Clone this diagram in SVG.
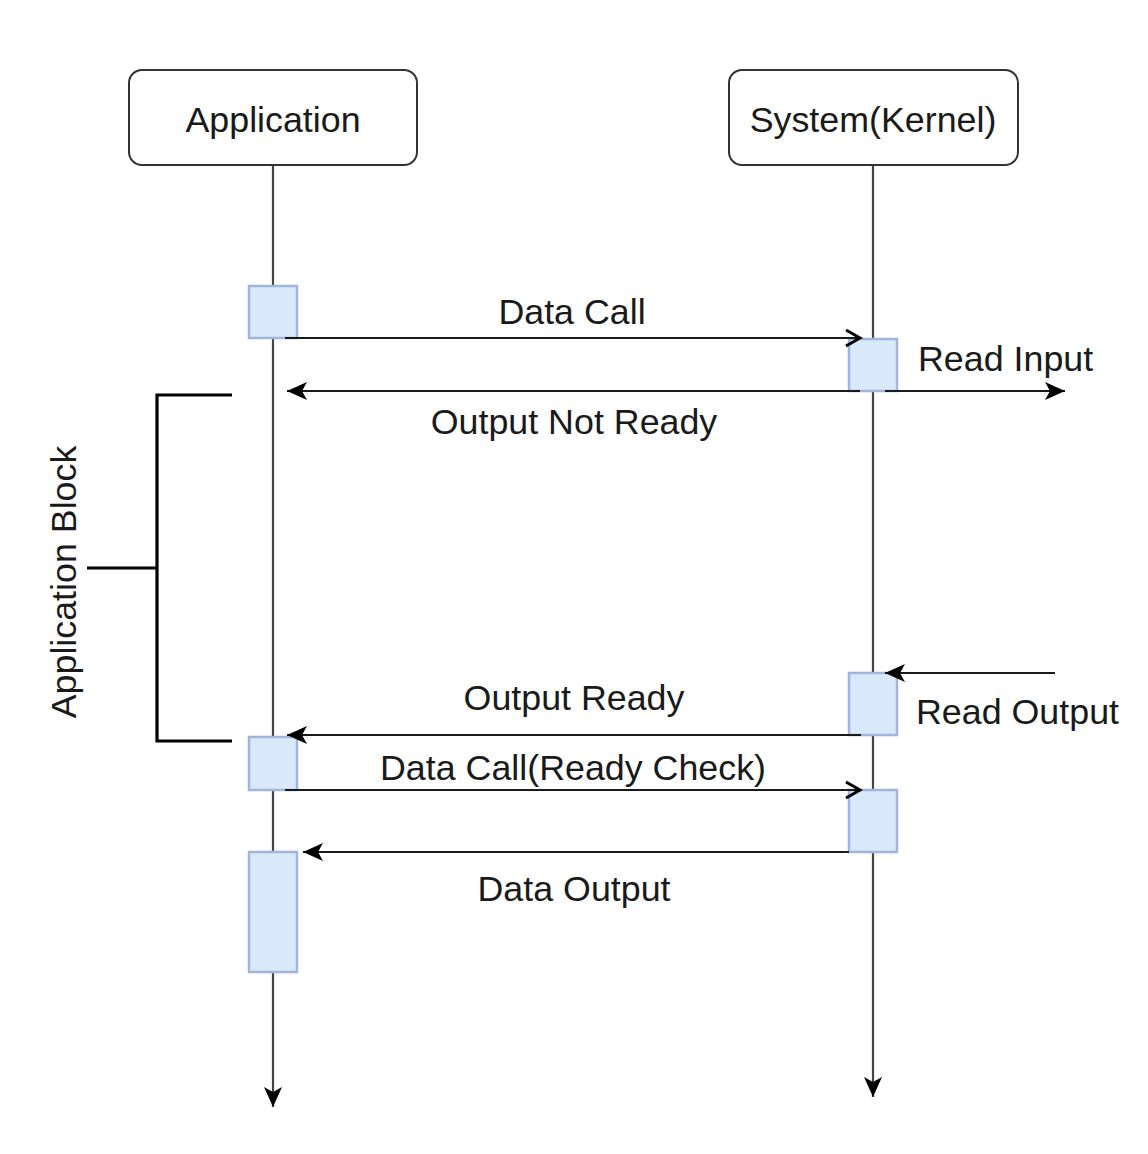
<svg xmlns="http://www.w3.org/2000/svg" width="1148" height="1154" viewBox="0 0 1148 1154">
<style>
.hdr{fill:#fff;stroke:#333;stroke-width:2}
.act{fill:#dae8fc;stroke:#9fb5d9;stroke-width:2.5}
.life{stroke:#444;stroke-width:2.2;fill:none}
.msg{stroke:#1a1a1a;stroke-width:2.2;fill:none}
.br{stroke:#000;stroke-width:3.2;fill:none}
text{font-family:"Liberation Sans",Arial,sans-serif;font-size:35.8px;fill:#1a1a1a}
.c{text-anchor:middle}
</style>
<defs>
<marker id="filled" viewBox="0 0 22 22" refX="20" refY="11" markerWidth="22" markerHeight="22" markerUnits="userSpaceOnUse" orient="auto">
<path d="M0,2 L20,11 L0,20 L5,11 Z" fill="#000"/>
</marker>
<marker id="open" viewBox="0 0 22 22" refX="18" refY="11" markerWidth="22" markerHeight="22" markerUnits="userSpaceOnUse" orient="auto">
<path d="M4,3 L18,11 L4,19" fill="none" stroke="#000" stroke-width="3"/>
</marker>
</defs>
<rect width="1148" height="1154" fill="#fff"/>
<g id="lifelines">
<line class="life" x1="273" y1="165" x2="273" y2="1107" marker-end="url(#filled)"/>
<line class="life" x1="873" y1="165" x2="873" y2="1097" marker-end="url(#filled)"/>
</g>
<g id="application">
<rect class="hdr" x="129" y="70" width="288" height="95" rx="13"/>
<text class="c" x="273" y="132">Application</text>
</g>
<g id="kernel">
<rect class="hdr" x="729" y="70" width="289" height="95" rx="13"/>
<text class="c" x="873" y="132">System(Kernel)</text>
</g>
<g id="activations">
<rect class="act" x="249" y="286" width="48" height="52"/>
<rect class="act" x="849" y="339" width="48" height="52"/>
<rect class="act" x="849" y="673" width="48" height="62"/>
<rect class="act" x="249" y="737" width="48" height="53"/>
<rect class="act" x="849" y="790" width="48" height="62"/>
<rect class="act" x="249" y="852" width="48" height="120"/>
</g>
<g id="connectors">
<line class="msg" x1="285" y1="338" x2="860" y2="338" marker-end="url(#open)"/>
<line class="msg" x1="860" y1="391" x2="287" y2="391" marker-end="url(#filled)"/>
<line class="msg" x1="885" y1="391" x2="1065" y2="391" marker-end="url(#filled)"/>
<line class="msg" x1="1055" y1="673" x2="885" y2="673" marker-end="url(#filled)"/>
<line class="msg" x1="861" y1="735" x2="287" y2="735" marker-end="url(#filled)"/>
<line class="msg" x1="285" y1="790" x2="860" y2="790" marker-end="url(#open)"/>
<line class="msg" x1="849" y1="852" x2="303" y2="852" marker-end="url(#filled)"/>
</g>
<g id="labels">
<text class="c" x="572" y="324">Data Call</text>
<text x="918" y="371">Read Input</text>
<text class="c" x="574" y="434">Output Not Ready</text>
<text class="c" x="574" y="710">Output Ready</text>
<text x="916" y="724">Read Output</text>
<text class="c" x="573" y="780">Data Call(Ready Check)</text>
<text class="c" x="574" y="901">Data Output</text>
</g>
<g id="application-block">
<path class="br" d="M232,395 H157 V741 H232 M87,568 H157"/>
<text class="c" transform="translate(76,582) rotate(-90)">Application Block</text>
</g>
</svg>
